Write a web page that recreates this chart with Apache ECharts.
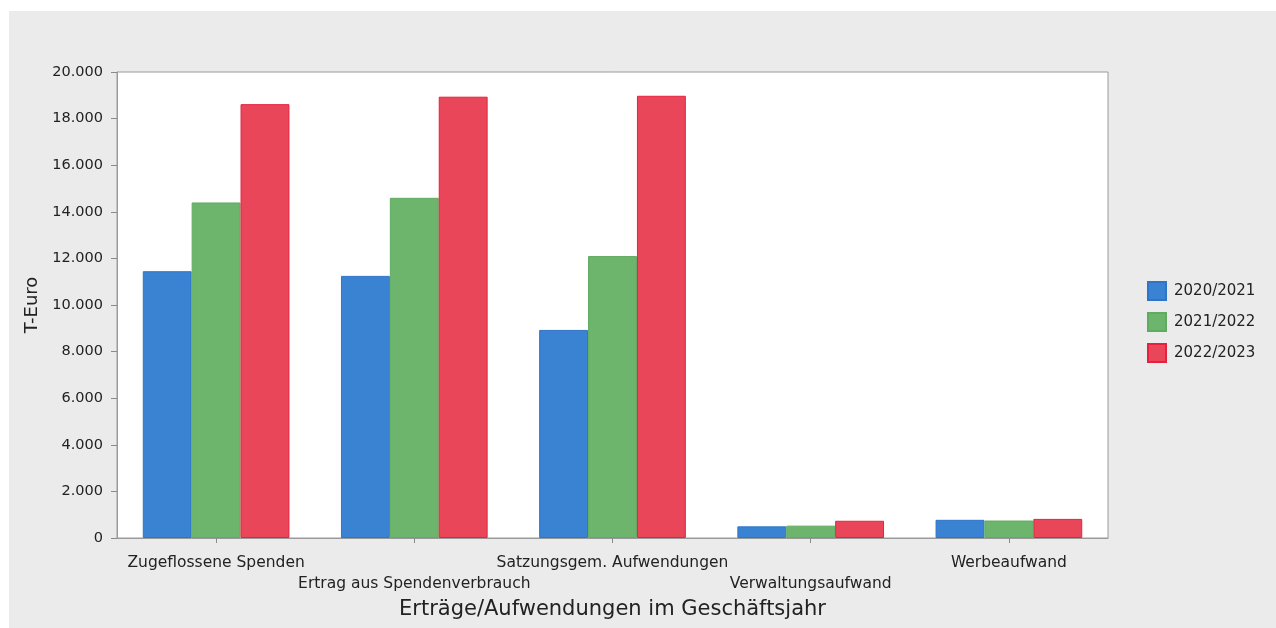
<!DOCTYPE html>
<html>
<head>
<meta charset="utf-8">
<script src="https://cdn.jsdelivr.net/npm/echarts@6/dist/echarts.min.js"></script>
<style>
  html, body { margin: 0; padding: 0; background: #ffffff; }
  #chart { width: 1276px; height: 628px; }
</style>
</head>
<body>
<div id="chart"></div>
<script>
// Categories along the x axis
const categories = [
  'Zugeflossene Spenden',
  'Ertrag aus Spendenverbrauch',
  'Satzungsgem. Aufwendungen',
  'Verwaltungsaufwand',
  'Werbeaufwand'
];

// Fiscal years (legend entries)
const years = ['2020/2021', '2021/2022', '2022/2023'];

// Values in thousand euro per fiscal year
const values2021 = [11450, 11250, 8930, 500, 780];
const values2022 = [14400, 14600, 12100, 530, 750];
const values2023 = [18620, 18940, 18980, 740, 820];

// Y axis range
const yMin = 0;
const yMax = 20000;
const yStep = 2000;

const colors = ['#3a82d2', '#6db56d', '#ea4659'];
const borders = ['#2f74c8', '#5fab60', '#e8203f'];
const FONT = 'DejaVu Sans';

function fmtThousands(v) {
  return String(v).replace(/\B(?=(\d{3})+(?!\d))/g, '.');
}

const seriesData = [values2021, values2022, values2023];

const chart = echarts.init(document.getElementById('chart'), null, { renderer: 'canvas' });

chart.setOption({
  animation: false,
  backgroundColor: '#ffffff',
  textStyle: { fontFamily: FONT },
  graphic: [{
    type: 'rect',
    z: -10,
    silent: true,
    shape: { x: 9, y: 11, width: 1267, height: 617 },
    style: { fill: '#ebebeb' }
  }],
  grid: {
    left: 117,
    right: 168,
    top: 72,
    bottom: 90,
    show: true,
    backgroundColor: '#ffffff',
    borderColor: '#9a9a9a',
    borderWidth: 1
  },
  legend: {
    orient: 'vertical',
    left: 1147,
    top: 281,
    padding: 0,
    itemWidth: 18,
    itemHeight: 18,
    itemGap: 11,
    icon: 'rect',
    textStyle: { fontFamily: FONT, fontSize: 15, color: '#222222', padding: [0, 0, 0, 3] },
    data: years
  },
  xAxis: {
    type: 'category',
    data: categories,
    name: 'Erträge/Aufwendungen im Geschäftsjahr',
    nameLocation: 'middle',
    nameGap: 60,
    nameTextStyle: { fontFamily: FONT, fontSize: 21, color: '#222222' },
    axisLine: { show: true, lineStyle: { color: '#9a9a9a', width: 1 } },
    axisTick: { show: true, alignWithLabel: true, length: 5, lineStyle: { color: '#8a8a8a' } },
    axisLabel: {
      interval: 0,
      margin: 14,
      fontFamily: FONT,
      fontSize: 15.5,
      color: '#222222',
      lineHeight: 21,
      formatter: function (value, index) {
        return index % 2 === 1 ? '\n' + value : value;
      }
    },
    splitLine: { show: false }
  },
  yAxis: {
    type: 'value',
    min: yMin,
    max: yMax,
    interval: yStep,
    name: 'T-Euro',
    nameLocation: 'middle',
    nameGap: 69,
    nameRotate: 90,
    nameTextStyle: { fontFamily: FONT, fontSize: 18, color: '#222222' },
    axisLine: { show: true, lineStyle: { color: '#9a9a9a', width: 1 } },
    axisTick: { show: true, length: 6, lineStyle: { color: '#8a8a8a' } },
    axisLabel: {
      margin: 14,
      fontFamily: FONT,
      fontSize: 14.5,
      color: '#222222',
      formatter: fmtThousands
    },
    splitLine: { show: false }
  },
  series: years.map(function (name, i) {
    return {
      name: name,
      type: 'bar',
      data: seriesData[i],
      barGap: '0%',
      barCategoryGap: '26%',
      itemStyle: { color: colors[i], borderColor: borders[i], borderWidth: 1 }
    };
  })
});
</script>
</body>
</html>
